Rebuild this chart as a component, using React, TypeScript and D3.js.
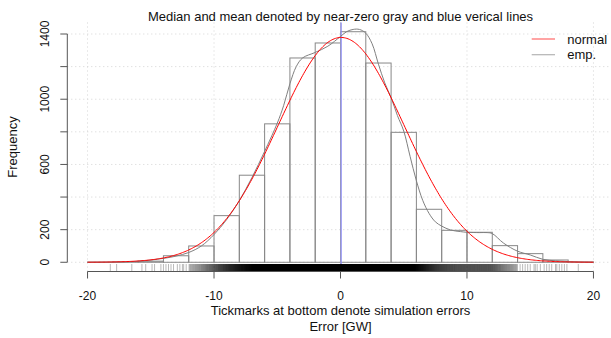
import React from "react";
import * as d3 from "d3";

// ---------- data ----------
const binStarts = [-20, -18, -16, -14, -12, -10, -8, -6, -4, -2, 0, 2, 4, 6, 8, 10, 12, 14, 16, 18];
const binCounts = [1, 2, 7, 40, 100, 286, 534, 849, 1253, 1345, 1414, 1222, 797, 325, 196, 184, 102, 53, 14, 2];
const BIN_W = 2;

// empirical (kernel) density, scaled to frequency
const kdeX = [-20, -18, -16, -14, -13, -12, -11, -10, -9, -8, -7, -6, -5, -4.5, -4, -3.5, -3, -2, -1, 0, 0.5, 1, 1.5, 2, 2.5, 3, 3.5, 4, 4.5, 5, 5.5, 6, 6.5, 7, 7.5, 8, 8.7, 9.5, 10, 11, 11.6, 12, 12.9, 14, 15, 16, 17, 18, 19, 20];
const kdeY = [0, 1, 6, 24, 38, 60, 100, 170, 262, 378, 520, 680, 853, 960, 1095, 1200, 1253, 1287, 1325, 1385, 1415, 1428, 1428, 1405, 1340, 1215, 1100, 1010, 900, 805, 650, 500, 380, 300, 248, 222, 198, 188, 184, 182, 182, 176, 117, 68, 45, 18, 9, 4, 1, 0];

// normal fit parameters
const normMean = 0.05;
const normSd = 5.0;
const normN = 8640;

const medianVal = 0.02;
const meanVal = 0.05;

// sparse rug ticks in the tails
const rugLeftTail = [-18.2, -17.7, -16.5, -15.7, -15.4, -14.9, -14.7, -14.2, -14.0, -13.8, -13.6, -13.4, -13.2, -12.9, -12.7, -12.5, -12.4, -12.2];
const rugRightTail = [14.2, 14.4, 14.6, 14.8, 15.0, 15.3, 15.4, 15.55, 15.8, 16.1, 16.3, 16.5, 16.7, 17.0, 17.1, 17.3, 17.5, 17.7, 17.9, 18.8];
const rugCoreFrom = -12;
const rugCoreTo = 14;

const xTicks = [-20, -10, 0, 10, 20];
const yTicks = [0, 200, 400, 600, 800, 1000, 1200, 1400];
const yTickLabels = [0, 200, 600, 1000, 1400];

const titleText = "Median and mean denoted by near-zero gray and blue verical lines";
const subText = "Tickmarks at bottom denote simulation errors";
const xLabel = "Error [GW]";
const yLabel = "Frequency";
const legendItems = [
  { label: "normal", color: "#ff0000" },
  { label: "emp.", color: "#808080" },
];

// ---------- layout ----------
const W = 611;
const H = 338;
const PL = 67.3, PR = 613.7, PT = 22.5, PB = 271.5;
const FONT = "'Liberation Sans', Arial, Helvetica, sans-serif";

export default function App() {
  const xMin = -20, xMax = 20;
  const xPad = (xMax - xMin) * 0.04;
  const yMaxData = d3.max(binCounts) as number;
  const yPad = yMaxData * 0.04;
  const x = d3.scaleLinear().domain([xMin - xPad, xMax + xPad]).range([PL, PR]);
  const y = d3.scaleLinear().domain([-yPad, yMaxData + yPad]).range([PB, PT]);

  // normal curve
  const normPts: [number, number][] = d3.range(0, 401).map((i) => {
    const v = xMin + (i * (xMax - xMin)) / 400;
    const z = (v - normMean) / normSd;
    const dens = Math.exp(-0.5 * z * z) / (normSd * Math.sqrt(2 * Math.PI));
    return [v, dens * normN * BIN_W];
  });
  const line = d3.line<[number, number]>().x((d) => x(d[0])).y((d) => y(d[1]));
  const normPath = line(normPts) || "";
  const kdePath =
    d3
      .line<[number, number]>()
      .x((d) => x(d[0]))
      .y((d) => y(d[1]))
      .curve(d3.curveCatmullRom.alpha(0.5))(kdeX.map((v, i) => [v, kdeY[i]] as [number, number])) || "";

  // rug positions: core placed by the empirical density (inverse cumulative), tails explicit
  const rugTails: number[] = [...rugLeftTail, ...rugRightTail];
  const dens = d3.scaleLinear().domain(kdeX).range(kdeY);
  const rugCore: number[] = [];
  {
    const step = 0.005;
    let cum = 0;
    let next = 0.5;
    for (let g = rugCoreFrom; g < rugCoreTo; g += step) {
      cum += ((dens(g) as number) / BIN_W) * step;
      while (cum >= next) {
        rugCore.push(g);
        next += 1;
      }
    }
  }
  const rugLen = (PB - PT) * 0.03;

  const textStyle: React.CSSProperties = { fontFamily: FONT, fill: "#111" };

  return (
    <svg width={W} height={H} style={{ position: "absolute", left: 0, top: 0, background: "#fff" }}>
      <rect x={0} y={0} width={W} height={H} fill="#fff" />
      {/* grid */}
      <g stroke="#d3d3d3" strokeDasharray="1 3" strokeWidth={1}>
        {xTicks.map((t) => (
          <line key={"gx" + t} x1={x(t)} x2={x(t)} y1={PT} y2={PB} />
        ))}
        {yTicks.map((t) => (
          <line key={"gy" + t} x1={PL} x2={PR} y1={y(t)} y2={y(t)} />
        ))}
      </g>
      {/* histogram */}
      <g fill="none" stroke="#888" strokeWidth={1}>
        {binStarts.map((s, i) => (
          <rect
            key={"b" + i}
            x={x(s)}
            y={y(binCounts[i])}
            width={x(s + BIN_W) - x(s)}
            height={y(0) - y(binCounts[i])}
          />
        ))}
      </g>
      {/* median & mean lines */}
      <line x1={x(medianVal)} x2={x(medianVal)} y1={PT} y2={PB} stroke="#aaa" strokeWidth={1} />
      <line x1={x(meanVal)} x2={x(meanVal)} y1={PT} y2={PB} stroke="#8080ff" strokeWidth={1} />
      {/* curves */}
      <path d={kdePath} fill="none" stroke="#808080" strokeWidth={1} />
      <path d={normPath} fill="none" stroke="#ff0000" strokeWidth={1} />
      {/* rug */}
      <g stroke="#000" strokeWidth={0.5} strokeOpacity={0.3}>
        {rugCore.map((v, i) => (
          <line key={"rc" + i} x1={x(v)} x2={x(v)} y1={PB} y2={PB - rugLen} />
        ))}
      </g>
      <g stroke="#000" strokeWidth={0.7} strokeOpacity={0.4}>
        {rugTails.map((v, i) => (
          <line key={"rt" + i} x1={x(v)} x2={x(v)} y1={PB} y2={PB - rugLen} />
        ))}
      </g>
      {/* x axis */}
      <g stroke="#555" strokeWidth={1}>
        <line x1={x(xTicks[0])} x2={x(xTicks[xTicks.length - 1])} y1={PB} y2={PB} />
        {xTicks.map((t) => (
          <line key={"xt" + t} x1={x(t)} x2={x(t)} y1={PB} y2={PB + 7} />
        ))}
      </g>
      {xTicks.map((t) => (
        <text key={"xl" + t} x={x(t)} y={300} textAnchor="middle" fontSize={12} style={textStyle}>
          {t}
        </text>
      ))}
      {/* y axis */}
      <g stroke="#555" strokeWidth={1}>
        <line x1={PL} x2={PL} y1={y(yTicks[0])} y2={y(yTicks[yTicks.length - 1])} />
        {yTicks.map((t) => (
          <line key={"yt" + t} x1={PL} x2={PL - 7} y1={y(t)} y2={y(t)} />
        ))}
      </g>
      {yTickLabels.map((t) => (
        <text
          key={"yl" + t}
          transform={`translate(49,${y(t)}) rotate(-90)`}
          textAnchor="middle"
          fontSize={12}
          style={textStyle}
        >
          {t}
        </text>
      ))}
      {/* titles */}
      <text x={(PL + PR) / 2} y={21} textAnchor="middle" fontSize={13} style={textStyle}>
        {titleText}
      </text>
      <text x={(PL + PR) / 2} y={315} textAnchor="middle" fontSize={13} style={textStyle}>
        {subText}
      </text>
      <text x={(PL + PR) / 2} y={331} textAnchor="middle" fontSize={13} style={textStyle}>
        {xLabel}
      </text>
      <text
        transform={`translate(17,${(PT + PB) / 2}) rotate(-90)`}
        textAnchor="middle"
        fontSize={13}
        style={textStyle}
      >
        {yLabel}
      </text>
      {/* legend */}
      {legendItems.map((it, i) => (
        <g key={"lg" + i}>
          <line
            x1={531.7}
            x2={555}
            y1={39 + i * 15.7}
            y2={39 + i * 15.7}
            stroke={it.color}
            strokeWidth={1.2}
            strokeOpacity={0.6}
          />
          <text x={567.3} y={43.5 + i * 15.7} fontSize={13} style={textStyle}>
            {it.label}
          </text>
        </g>
      ))}
    </svg>
  );
}
